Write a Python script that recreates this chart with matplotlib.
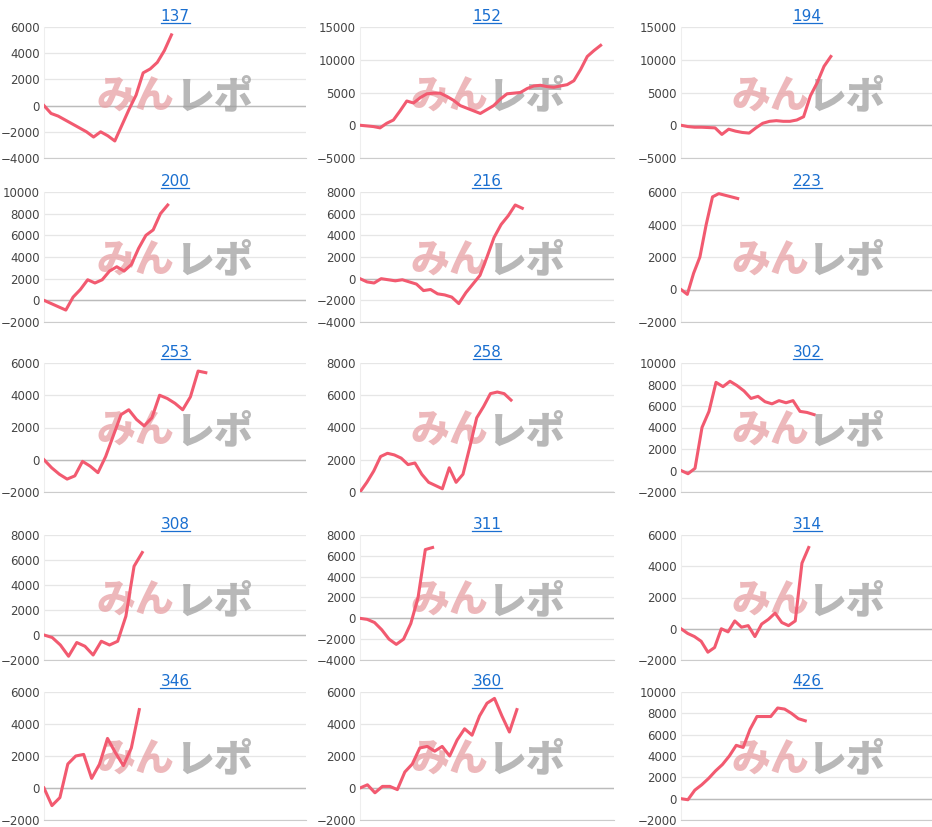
import matplotlib
matplotlib.use("Agg")
import matplotlib.pyplot as plt

titles = ["137","152","194","200","216","223","253","258","302","308","311","314","346","360","426"]
s137 = [0,-600,-800,-1100,-1400,-1700,-2000,-2400,-2000,-2300,-2700,-1500,-300,800,2500,2800,3300,4200,5400]
s152 = [0,-100,-200,-400,300,800,2200,3700,3400,4200,4800,4900,4900,4400,3800,3000,2600,2200,1800,2400,3000,4000,4800,4900,5000,5600,6000,6100,5900,5800,6000,6200,6800,8500,10500,11400,12200]
s194 = [0,-200,-300,-300,-350,-400,-1400,-600,-900,-1100,-1200,-400,300,600,700,600,600,800,1300,4500,6500,9000,10500]
s200 = [0,-300,-600,-900,300,1000,1900,1600,1900,2700,3100,2700,3300,4800,6000,6500,8000,8800]
s216 = [0,-300,-400,0,-100,-200,-100,-300,-500,-1100,-1000,-1400,-1500,-1700,-2300,-1300,-500,300,2000,3800,5000,5800,6800,6500]
s223 = [0,-300,1000,2000,4000,5700,5900,5800,5700,5600]
s253 = [0,-500,-900,-1200,-1000,-100,-400,-800,200,1500,2800,3100,2500,2100,2600,4000,3800,3500,3100,3900,5500,5400]
s258 = [0,600,1300,2200,2400,2300,2100,1700,1800,1100,600,400,200,1500,600,1100,2800,4600,5300,6100,6200,6100,5700]
s302 = [0,-300,200,4000,5500,8200,7800,8300,7900,7400,6700,6900,6400,6200,6500,6300,6500,5500,5400,5200]
s308 = [0,-200,-800,-1700,-600,-900,-1600,-500,-800,-500,1500,5500,6600]
s311 = [0,-100,-400,-1100,-2000,-2500,-2000,-500,2000,6600,6800]
s314 = [0,-300,-500,-800,-1500,-1200,0,-200,500,100,200,-500,300,600,1000,400,200,500,4200,5200]
s346 = [0,-1100,-600,1500,2000,2100,600,1500,3100,2200,1400,2500,4900]
s360 = [0,200,-300,100,100,-100,1000,1500,2500,2600,2300,2600,2000,3000,3700,3300,4500,5300,5600,4500,3500,4900]
s426 = [0,-100,800,1300,1900,2600,3200,4000,5000,4800,6500,7700,7700,7700,8500,8400,8000,7500,7300]
series = [s137,s152,s194,s200,s216,s223,s253,s258,s302,s308,s311,s314,s346,s360,s426]
yranges = [(-4000,6000,2000),(-5000,15000,5000),(-5000,15000,5000),(-2000,10000,2000),(-4000,8000,2000),
           (-2000,6000,2000),(-2000,6000,2000),(0,8000,2000),(-2000,10000,2000),(-2000,8000,2000),
           (-4000,8000,2000),(-2000,6000,2000),(-2000,6000,2000),(-2000,6000,2000),(-2000,10000,2000)]
nslots = [37, 38, 37, 36, 36, 40, 34, 37, 36, 32, 35, 37.5, 33, 34, 36.5]

W, H = 932, 827
fig = plt.figure(figsize=(W/100, H/100), dpi=100)
col_l = [44, 360, 681]
col_w = [262, 254, 252]
row_t = [27, 192, 363, 535, 692]
row_b = [158, 322, 492, 660, 820]

for i in range(15):
    r, c = divmod(i, 3)
    l = col_l[c]; w = col_w[c]; t = row_t[r]; b = row_b[r]
    ax = fig.add_axes([l/W, 1-b/H, w/W, (b-t)/H])
    lo, hi, st = yranges[i]
    ax.set_ylim(lo, hi)
    ax.set_yticks(range(lo, hi+1, st))
    ax.set_xlim(0, nslots[i])
    ax.set_xticks([])
    ax.grid(axis='y', color='#e6e6e6', lw=0.9)
    ax.set_axisbelow(True)
    for s in ['top','right']:
        ax.spines[s].set_visible(False)
    ax.spines['left'].set_color('#eeeeee')
    ax.spines['bottom'].set_color('#cccccc')
    ax.axhline(0, color='#bbbbbb', lw=1, zorder=1)
    ax.tick_params(axis='y', length=0, labelsize=8.5, labelcolor='#444444', pad=3)
    ax.text(0.20, 0.47, "みん", transform=ax.transAxes, fontsize=28, fontweight='black',
            family=['Noto Sans CJK JP'], color='#e8a0a4', alpha=0.75, va='center')
    ax.text(0.50, 0.47, "レポ", transform=ax.transAxes, fontsize=28, fontweight='black',
            family=['Noto Sans CJK JP'], color='#a0a0a0', alpha=0.75, va='center')
    ax.plot(range(len(series[i])), series[i], color='#f25a70', lw=2.2, zorder=3)
    ax.set_title(titles[i], color='#1a6fd0', fontsize=11, pad=4)
fig.canvas.draw()
for ax in fig.axes:
    bb = ax.title.get_window_extent()
    y = (bb.y0+1)/H
    fig.add_artist(plt.Line2D([bb.x0/W, bb.x1/W], [y, y], color='#1a6fd0', lw=0.9))
fig.savefig("out.png", dpi=100, facecolor='white')
